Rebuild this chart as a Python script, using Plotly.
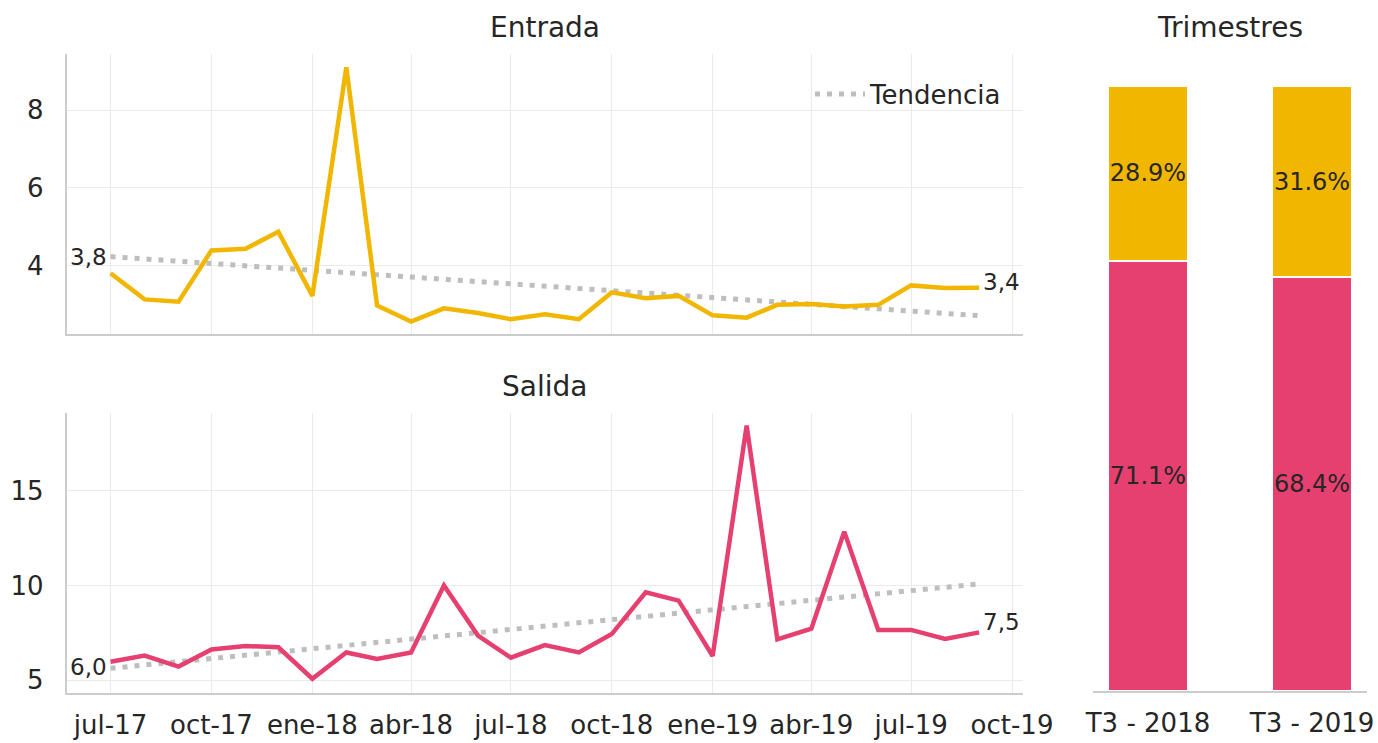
import plotly.graph_objects as go

# Monthly series (first day of each month)
meses = [
    "2017-07-01", "2017-08-01", "2017-09-01", "2017-10-01", "2017-11-01", "2017-12-01",
    "2018-01-01", "2018-02-01", "2018-03-01", "2018-04-01", "2018-05-01", "2018-06-01",
    "2018-07-01", "2018-08-01", "2018-09-01", "2018-10-01", "2018-11-01", "2018-12-01",
    "2019-01-01", "2019-02-01", "2019-03-01", "2019-04-01", "2019-05-01", "2019-06-01",
    "2019-07-01", "2019-08-01", "2019-09-01",
]
entrada = [
    3.80, 3.13, 3.07, 4.39, 4.43, 4.87, 3.22, 9.10, 2.97, 2.56, 2.90, 2.78,
    2.62, 2.75, 2.62, 3.31, 3.16, 3.22, 2.72, 2.66, 2.99, 3.01, 2.95, 2.99,
    3.49, 3.42, 3.43,
]
salida = [
    5.97, 6.29, 5.71, 6.62, 6.80, 6.73, 5.07, 6.46, 6.11, 6.46, 10.00, 7.35,
    6.18, 6.85, 6.46, 7.43, 9.64, 9.20, 6.27, 18.46, 7.15, 7.72, 12.85, 7.65,
    7.65, 7.17, 7.52,
]
# Linear trend, value at the first and last month
tendencia_entrada = [4.23, 2.71]
tendencia_salida = [5.62, 10.08]

tick_vals = [
    "2017-07-01", "2017-10-01", "2018-01-01", "2018-04-01", "2018-07-01",
    "2018-10-01", "2019-01-01", "2019-04-01", "2019-07-01", "2019-10-01",
]
tick_text = [
    "jul-17", "oct-17", "ene-18", "abr-18", "jul-18",
    "oct-18", "ene-19", "abr-19", "jul-19", "oct-19",
]

trimestres = ["T3 - 2018", "T3 - 2019"]
pct_salida = [71.1, 68.4]
pct_entrada = [28.9, 31.6]

AMARILLO = "#F1B600"
ROSA = "#E5406F"
GRIS_TEND = "#BEBEBE"
TEXTO = "#262626"
FONT = "DejaVu Sans"

W, H = 1378, 743


def px_x(p):
    return p / W


def px_y(p):
    return 1 - p / H


def etiqueta(v):
    return f"{v:.1f}".replace(".", ",")


fig = go.Figure()

# Entrada panel
fig.add_trace(go.Scatter(
    x=[meses[0], meses[-1]], y=tendencia_entrada, mode="lines",
    line=dict(color=GRIS_TEND, width=5, dash="5px,7px"),
    name="Tendencia", showlegend=True, xaxis="x", yaxis="y", hoverinfo="skip",
))
fig.add_trace(go.Scatter(
    x=meses, y=entrada, mode="lines", line=dict(color=AMARILLO, width=4.5),
    name="Entrada", showlegend=False, xaxis="x", yaxis="y",
))

# Salida panel
fig.add_trace(go.Scatter(
    x=[meses[0], meses[-1]], y=tendencia_salida, mode="lines",
    line=dict(color=GRIS_TEND, width=5, dash="5px,7px"),
    name="Tendencia", showlegend=False, xaxis="x2", yaxis="y2", hoverinfo="skip",
))
fig.add_trace(go.Scatter(
    x=meses, y=salida, mode="lines", line=dict(color=ROSA, width=4.5),
    name="Salida", showlegend=False, xaxis="x2", yaxis="y2",
))

# Quarterly share, stacked
for valores, color, nombre in [(pct_salida, ROSA, "Salida"), (pct_entrada, AMARILLO, "Entrada")]:
    fig.add_trace(go.Bar(
        x=trimestres, y=valores,
        marker=dict(color=color, line=dict(color="white", width=1.5)),
        text=[f"{v:.1f}%" for v in valores], textposition="inside",
        insidetextanchor="middle", textangle=0, constraintext="none",
        textfont=dict(family=FONT, size=24, color=TEXTO), width=0.49,
        showlegend=False, xaxis="x3", yaxis="y3", name=nombre,
    ))

x_dom = [px_x(66.7), px_x(1023)]
x_range = ["2017-05-22", "2019-10-11"]
grid = "#EAEAEA"
axis_line = "#CCCCCC"

common_x = dict(
    type="date", range=x_range, domain=x_dom, tickmode="array", tickvals=tick_vals,
    showgrid=True, gridcolor=grid, gridwidth=1, showline=True, linecolor=axis_line,
    linewidth=2, zeroline=False, ticks="", automargin=False,
    tickfont=dict(family=FONT, size=26, color=TEXTO),
)

fig.update_layout(
    width=W, height=H,
    margin=dict(l=0, r=0, t=0, b=0),
    paper_bgcolor="white", plot_bgcolor="white",
    font=dict(family=FONT, color=TEXTO),
    barmode="stack",
    uniformtext=dict(mode=False),
    xaxis=dict(common_x, anchor="y", showticklabels=False),
    yaxis=dict(
        domain=[px_y(334), px_y(54)], range=[2.24, 9.44], tickvals=[4, 6, 8],
        showgrid=True, gridcolor=grid, gridwidth=1, showline=True, linecolor=axis_line,
        linewidth=2, zeroline=False, anchor="x", automargin=False, ticklabelstandoff=16,
        tickfont=dict(family=FONT, size=26, color=TEXTO),
    ),
    xaxis2=dict(common_x, anchor="y2", ticktext=tick_text, ticklabelstandoff=8),
    yaxis2=dict(
        domain=[px_y(692.7), px_y(412.7)], range=[4.33, 19.14], tickvals=[5, 10, 15],
        showgrid=True, gridcolor=grid, gridwidth=1, showline=True, linecolor=axis_line,
        linewidth=2, zeroline=False, anchor="x2", automargin=False, ticklabelstandoff=16,
        tickfont=dict(family=FONT, size=26, color=TEXTO),
    ),
    xaxis3=dict(
        type="category", domain=[px_x(1093), px_x(1367)], range=[-0.335, 1.335],
        anchor="y3", showgrid=False, showline=True, linecolor=axis_line, linewidth=2,
        zeroline=False, ticks="", automargin=False, ticklabelstandoff=8,
        tickfont=dict(family=FONT, size=26, color=TEXTO),
    ),
    yaxis3=dict(
        domain=[px_y(691), px_y(54)], range=[0, 105.3], anchor="x3",
        visible=False, showgrid=False, zeroline=False,
    ),
    legend=dict(
        x=px_x(810), y=px_y(94), xanchor="left", yanchor="middle",
        bgcolor="rgba(0,0,0,0)", font=dict(family=FONT, size=26, color=TEXTO),
        itemwidth=50,
    ),
    showlegend=True,
)

# Panel titles
for texto, xc, yc in [
    ("Entrada", (66.7 + 1023) / 2, 28),
    ("Salida", (66.7 + 1023) / 2, 387),
    ("Trimestres", (1093 + 1367) / 2, 28),
]:
    fig.add_annotation(
        text=texto, x=px_x(xc), y=px_y(yc), xref="paper", yref="paper",
        xanchor="center", yanchor="middle", showarrow=False,
        font=dict(family=FONT, size=28, color=TEXTO),
    )

# First and last value labels
for serie, xa, ya, y_first, y_last in [
    (entrada, "x", "y", 16, 6),
    (salida, "x2", "y2", -5, 10),
]:
    fig.add_annotation(
        text=etiqueta(serie[0]), x=meses[0], y=serie[0], xref=xa, yref=ya,
        xanchor="right", yanchor="middle", xshift=-2, yshift=y_first, showarrow=False,
        font=dict(family=FONT, size=23, color=TEXTO),
    )
    fig.add_annotation(
        text=etiqueta(serie[-1]), x=meses[-1], y=serie[-1], xref=xa, yref=ya,
        xanchor="left", yanchor="middle", xshift=2, yshift=y_last, showarrow=False,
        font=dict(family=FONT, size=23, color=TEXTO),
    )

fig.write_html("out.html")
